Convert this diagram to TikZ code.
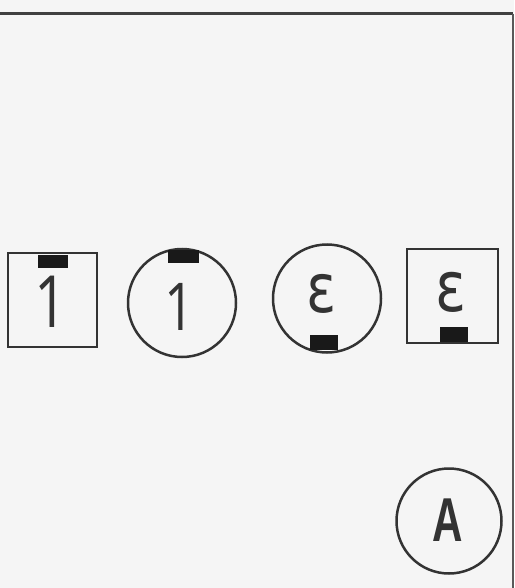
\documentclass[tikz,border=0pt]{standalone}
\usepackage{fontspec}
\setmainfont{Liberation Sans}
\newfontfamily\glyphfont{DejaVu Sans}
\newfontfamily\onefont{Open Sans}
\begin{document}
\begin{tikzpicture}[x=1pt,y=-1pt,
  outline/.style={draw=black!80,line width=2.5pt,inner sep=0pt},
  sqbox/.style={outline,rectangle,minimum width=#1},
  ringbox/.style={outline,circle,minimum size=#1},
  tabbox/.style={fill=black!90,draw=none,inner sep=0pt,rectangle},
  glyph/.style={inner sep=0pt,text=black!80}]
\fill[black!4] (0,0) rectangle (514,588);
\useasboundingbox (0,0) rectangle (514,588);
\coordinate (tl) at (0,14);
\coordinate (tr) at (513,14);
\coordinate (br) at (513,588);
\draw[black!75,line width=3pt] (tl) -- (tr);
\draw[black!65,line width=1.6pt] (tr) -- (br);
% square 1
\node[sqbox=89pt,minimum height=94pt] (s1) at (52.5,300) {};
\node[tabbox,minimum width=30pt,minimum height=13pt] (t1) at (53,261.5) {};
\node[glyph,font=\fontsize{72}{72}\selectfont\onefont,xscale=0.8] (g1) at (51,302) {1};
% circle 1
\node[ringbox=108pt] (c1) at (182,303) {};
\node[tabbox,minimum width=31pt,minimum height=13pt] (t2) at (183.5,256.5) {};
\node[glyph,font=\fontsize{66}{66}\selectfont\onefont,xscale=0.8] (g2) at (180,307) {1};
% circle epsilon
\node[ringbox=108pt] (c2) at (327,298.5) {};
\node[tabbox,minimum width=28pt,minimum height=15pt] (t3) at (324,342.5) {};
\node[glyph,font=\fontsize{68}{68}\selectfont\glyphfont,xscale=0.82] (g3) at (322,294) {ε};
% square epsilon
\node[sqbox=91pt,minimum height=94pt] (s2) at (452.5,296) {};
\node[tabbox,minimum width=28pt,minimum height=15pt] (t4) at (454,334.5) {};
\node[glyph,font=\fontsize{70}{70}\selectfont\glyphfont,xscale=0.82] (g4) at (451,292) {ε};
% circle A
\node[ringbox=105pt] (c3) at (449,521) {};
\node[glyph,font=\fontsize{62}{62}\selectfont\bfseries,xscale=0.68] (g5) at (448,520) {A};
\end{tikzpicture}
\end{document}
